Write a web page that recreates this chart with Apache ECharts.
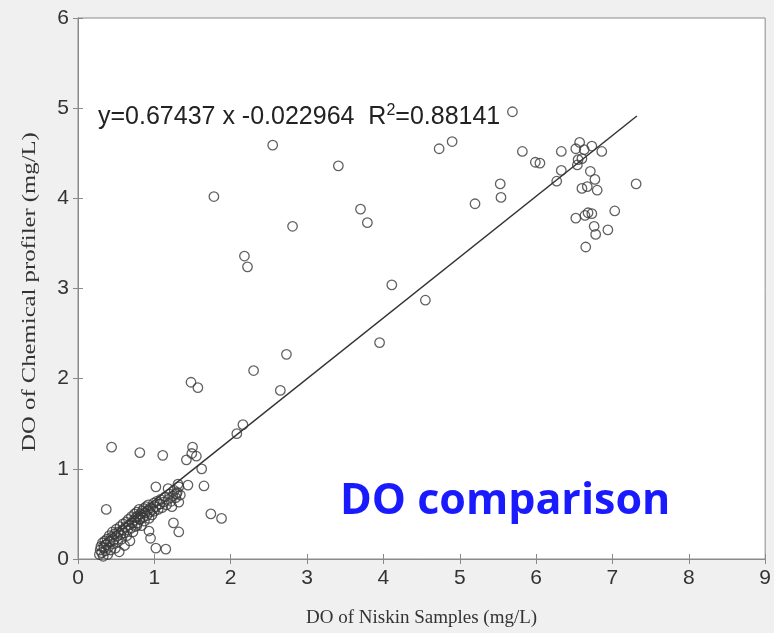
<!DOCTYPE html>
<html><head><meta charset="utf-8">
<script src="https://cdn.jsdelivr.net/npm/echarts@6/dist/echarts.min.js"></script>
<style>html,body{margin:0;padding:0;background:#f0f0f0;}#c{width:774px;height:633px;}</style>
</head><body><div id="c"></div>
<script>
// Niskin DO (x) values
const niskinDO = [
  0.44,0.81,1.11,0.37,1.48,1.57,1.78,2.18,2.22,2.55,2.81,3.41,3.70,3.79,4.11,3.95,4.55,4.73,4.90,5.20,5.53,5.54,5.69,5.82,5.99,6.05,6.27,6.33,6.33,2.73,2.65,2.30,2.08,2.16,
  6.57,6.52,6.63,6.73,6.86,6.55,6.60,6.54,6.71,6.77,6.60,6.67,6.80,7.31,6.52,6.64,6.68,6.73,7.03,6.76,6.78,6.94,6.65,
  1.02,1.18,1.31,1.44,1.65,1.62,1.42,1.55,1.49,1.50,1.74,1.88,1.25,1.32,0.93,0.95,1.02,1.15,0.81,0.77,1.29,1.32,1.23,1.07,
  0.28,0.29,0.30,0.31,0.32,0.33,0.34,0.35,0.36,0.37,0.38,0.39,0.40,0.41,0.42,0.43,0.44,0.45,0.46,0.47,0.48,0.49,0.50,0.51,0.52,0.53,0.54,0.55,0.56,0.57,0.58,0.59,0.60,0.61,0.62,0.63,0.64,0.65,0.66,0.67,0.68,0.69,0.70,0.71,0.72,0.73,0.74,0.75,0.76,0.77,0.78,0.79,0.80,0.81,0.82,0.83,0.84,0.85,0.86,0.87,0.88,0.89,0.90,0.91,0.92,0.93,0.94,0.95,0.97,0.98,0.99,1.00,1.02,1.03,1.05,1.07,1.08,1.10,1.12,1.14,1.16,1.18,1.20,1.22,1.24,1.26,1.28,1.30,1.32,1.34
];
// Chemical profiler DO (y) values
const profilerDO = [
  1.24,1.18,1.15,0.55,1.96,1.90,4.02,3.36,3.24,4.59,3.69,4.36,3.88,3.73,3.04,2.40,2.87,4.55,4.63,3.94,4.16,4.01,4.96,4.52,4.40,4.39,4.19,4.52,4.31,2.27,1.87,2.09,1.39,1.49,
  4.62,4.55,4.54,4.58,4.52,4.43,4.44,4.37,4.30,4.21,4.11,4.13,4.09,4.16,3.78,3.81,3.84,3.83,3.86,3.69,3.60,3.65,3.46,
  0.80,0.78,0.83,0.82,0.81,1.00,1.10,1.14,1.17,1.24,0.50,0.45,0.40,0.30,0.31,0.23,0.12,0.11,0.44,0.37,0.72,0.63,0.58,0.61,
  0.05,0.10,0.14,0.07,0.18,0.03,0.12,0.20,0.09,0.16,0.22,0.05,0.13,0.26,0.19,0.10,0.24,0.30,0.17,0.21,0.28,0.12,0.33,0.25,0.19,0.30,0.08,0.36,0.27,0.22,0.32,0.39,0.29,0.15,0.35,0.41,0.26,0.32,0.44,0.38,0.20,0.34,0.47,0.40,0.30,0.43,0.50,0.36,0.46,0.52,0.40,0.48,0.55,0.44,0.50,0.37,0.53,0.46,0.56,0.42,0.51,0.58,0.48,0.54,0.60,0.45,0.52,0.57,0.49,0.55,0.62,0.53,0.58,0.64,0.55,0.61,0.66,0.57,0.63,0.69,0.60,0.66,0.72,0.64,0.70,0.76,0.68,0.74,0.80,0.71
];
// Linear fit
const fitSlope = 0.67437;
const fitIntercept = -0.022964;
const fitR2 = 0.88141;
const fitXRange = [0.28, 7.32];
// Axis ticks
const xTicks = [0,1,2,3,4,5,6,7,8,9];
const yTicks = [0,1,2,3,4,5,6];

const points = niskinDO.map((x, i) => [x, profilerDO[i]]);
const fitLine = fitXRange.map(x => [x, fitSlope * x + fitIntercept]);

const chart = echarts.init(document.getElementById('c'));
const axisCommon = {
  type: 'value',
  axisLine: { show: true, lineStyle: { color: '#8a8a8a', width: 1 } },
  axisTick: { show: true, inside: true, length: 5, lineStyle: { color: '#8a8a8a' } },
  splitLine: { show: false },
  interval: 1
};
const sansFont = 'Liberation Sans, Arial, sans-serif';
const serifFont = 'Liberation Serif, Times New Roman, serif';
chart.setOption({
  backgroundColor: '#f0f0f0',
  animation: false,
  grid: { left: 78, right: 8, top: 18, bottom: 73, show: true, backgroundColor: '#ffffff', borderColor: '#8a8a8a', borderWidth: 1 },
  xAxis: [
    Object.assign({}, axisCommon, {
      min: xTicks[0], max: xTicks[xTicks.length - 1], position: 'bottom',
      axisLabel: { color: '#333', fontFamily: sansFont, fontSize: 21, margin: 9 },
      name: 'DO of Niskin Samples (mg/L)', nameLocation: 'middle', nameGap: 50,
      nameTextStyle: { fontFamily: serifFont, fontSize: 19, color: '#333' }
    }),
    Object.assign({}, axisCommon, {
      min: xTicks[0], max: xTicks[xTicks.length - 1], position: 'top', axisLabel: { show: false }
    })
  ],
  yAxis: [
    Object.assign({}, axisCommon, {
      min: yTicks[0], max: yTicks[yTicks.length - 1], position: 'left',
      axisLabel: { color: '#333', fontFamily: sansFont, fontSize: 21, margin: 9 }
    }),
    Object.assign({}, axisCommon, {
      min: yTicks[0], max: yTicks[yTicks.length - 1], position: 'right', axisLabel: { show: false }
    })
  ],
  series: [
    {
      type: 'scatter', data: points, symbol: 'circle', symbolSize: 9.5,
      itemStyle: { color: 'rgba(0,0,0,0)', borderColor: '#3a3a3a', borderWidth: 1.3 },
      z: 3
    },
    {
      type: 'line', data: fitLine, symbol: 'none',
      lineStyle: { color: '#333', width: 1.5 }, z: 2
    }
  ],
  graphic: [
    {
      type: 'text', left: 98, top: 103,
      style: {
        text: '{n|y=' + fitSlope + ' x ' + fitIntercept + '  R}{s|2}{n|=' + fitR2 + '}',
        rich: {
          n: { fontFamily: sansFont, fontSize: 25, fill: '#222' },
          s: { fontFamily: sansFont, fontSize: 16, fill: '#222', verticalAlign: 'top', padding: [0,0,13,0] }
        }
      }
    },
    {
      type: 'text', x: 30, y: 292, rotation: Math.PI / 2, scaleX: 1.3,
      style: { text: 'DO of Chemical profiler (mg/L)', fontFamily: serifFont, fontSize: 19, fill: '#333', textAlign: 'center', textVerticalAlign: 'middle' }
    },
    {
      type: 'text', left: 340, top: 480,
      style: { text: 'DO comparison', fontFamily: 'Open Sans, Noto Sans, sans-serif', fontWeight: 'bold', fontSize: 43, fill: '#1a1aff' }
    }
  ]
});
</script></body></html>
